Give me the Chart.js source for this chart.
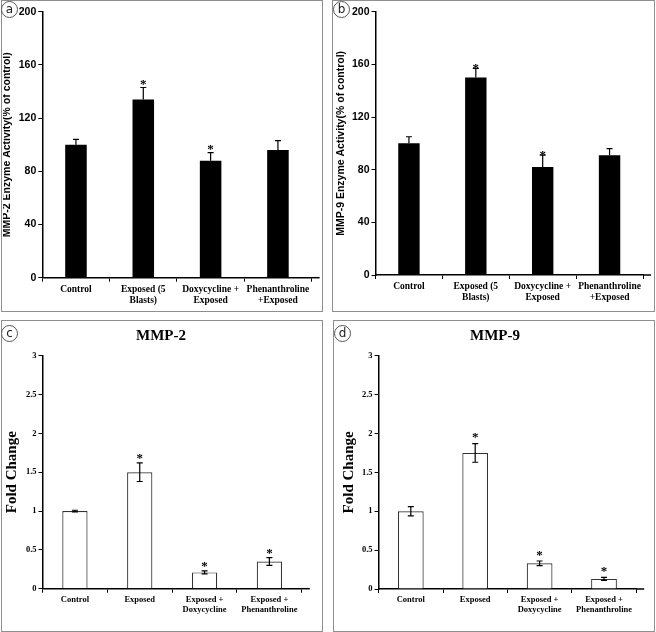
<!DOCTYPE html>
<html>
<head>
<meta charset="utf-8">
<script src="https://cdn.jsdelivr.net/npm/chart.js@4.4.0/dist/chart.umd.min.js"></script>
<style>
  body { margin: 0; background: #fff; width: 656px; height: 632px; position: relative; overflow: hidden; }
  .panel { position: absolute; border: 1.5px solid #8f8f8f; box-sizing: border-box; }
  canvas { position: absolute; }
  .tag { position: absolute; width: 15px; height: 15px; border: 1px solid #555; border-radius: 50%;
         font: 12px "DejaVu Sans", sans-serif; line-height: 14px; text-align: center; color: #222; background: #fff; }
  .title { position: absolute; font: bold 15px "Liberation Serif", serif; color: #000; transform: translate(-50%, -50%); white-space: nowrap; }
</style>
</head>
<body>
<div class="panel" style="left:1px;top:0;width:322px;height:312px"></div>
<div class="panel" style="left:332px;top:0;width:323px;height:312px"></div>
<div class="panel" style="left:1px;top:320px;width:322px;height:312px"></div>
<div class="panel" style="left:333px;top:320px;width:322px;height:312px"></div>

<canvas id="chartA" style="left:3px;top:2px" width="317" height="307"></canvas>
<canvas id="chartB" style="left:334px;top:2px" width="318" height="307"></canvas>
<canvas id="chartC" style="left:3px;top:322px" width="317" height="307"></canvas>
<canvas id="chartD" style="left:335px;top:322px" width="317" height="307"></canvas>

<div class="tag" style="left:1px;top:1px">a</div>
<div class="tag" style="left:333px;top:1px">b</div>
<div class="tag" style="left:1px;top:325px">c</div>
<div class="tag" style="left:334px;top:325px">d</div>
<div class="title" style="left:161px;top:335px">MMP-2</div>
<div class="title" style="left:495px;top:335px">MMP-9</div>

<script>
// panels a/b: enzyme activity, % of control
const activityLabels = [['Control'], ['Exposed (5', 'Blasts)'], ['Doxycycline +', 'Exposed'], ['Phenanthroline', '+Exposed']];
const mmp2Activity = [100, 134, 88, 96];
const mmp2ActivityErr = [4, 9, 6, 7];
const mmp2ActivityStar = [false, true, true, false];
const mmp9Activity = [100, 150, 82, 91];
const mmp9ActivityErr = [5, 7, 9, 5];
const mmp9ActivityStar = [false, true, true, false];
const activityTicks = [0, 40, 80, 120, 160, 200];

// panels c/d: fold change
const foldLabels = [['Control'], ['Exposed'], ['Exposed +', 'Doxycycline'], ['Exposed +', 'Phenanthroline']];
const mmp2Fold = [1.0, 1.5, 0.21, 0.35];
const mmp2FoldErr = [0.01, 0.12, 0.02, 0.05];
const mmp2FoldStar = [false, true, true, true];
const mmp9Fold = [1.0, 1.75, 0.33, 0.13];
const mmp9FoldErr = [0.06, 0.12, 0.03, 0.02];
const mmp9FoldStar = [false, true, true, true];
const foldTicks = [0, 0.5, 1, 1.5, 2, 2.5, 3];

const serif = '"Liberation Serif", "Times New Roman", serif';
const sans = '"Liberation Sans", Arial, sans-serif';

const errorBars = {
    id: 'errorBars',
    afterDatasetsDraw(chart, args, opts) {
        const ctx = chart.ctx;
        const y = chart.scales.y;
        const meta = chart.getDatasetMeta(0);
        const area = chart.chartArea;
        ctx.save();
        // axis line runs a little past the last category, as in the original
        ctx.strokeStyle = '#000';
        ctx.lineWidth = 1.5;
        ctx.beginPath();
        ctx.moveTo(area.right, area.bottom);
        ctx.lineTo(area.right + 8, area.bottom);
        ctx.stroke();

        ctx.lineWidth = 1.2;
        ctx.fillStyle = '#000';
        ctx.font = 'bold 13px ' + serif;
        ctx.textAlign = 'center';
        ctx.textBaseline = 'alphabetic';
        meta.data.forEach((bar, i) => {
            const v = opts.values[i], e = opts.errors[i];
            const top = y.getPixelForValue(v + e);
            const bot = y.getPixelForValue(opts.twoSided ? v - e : v);
            ctx.beginPath();
            ctx.moveTo(bar.x, top);
            ctx.lineTo(bar.x, bot);
            ctx.moveTo(bar.x - 3, top);
            ctx.lineTo(bar.x + 3, top);
            if (opts.twoSided) {
                ctx.moveTo(bar.x - 3, bot);
                ctx.lineTo(bar.x + 3, bot);
            }
            ctx.stroke();
            if (opts.stars[i]) {
                ctx.fillText('*', bar.x, top - opts.starGap + 6.5);
            }
        });
        ctx.restore();
    }
};

const makeChart = (id, p) => {
    const top = p.kind === 'activity';
    new Chart(document.getElementById(id), {
        type: 'bar',
        data: {
            labels: p.labels,
            datasets: [{
                data: p.values,
                backgroundColor: top ? '#000' : '#fff',
                borderColor: top ? '#000' : '#333',
                borderWidth: top ? 0 : 1.2,
                categoryPercentage: 1,
                barPercentage: p.barPct
            }]
        },
        options: {
            responsive: false,
            animation: false,
            events: [],
            layout: { padding: { left: 0, top: p.area.top, right: p.area.right, bottom: 0 } },
            plugins: {
                legend: { display: false },
                tooltip: { enabled: false },
                errorBars: { values: p.values, errors: p.errors, stars: p.stars, twoSided: !top, starGap: p.starGap }
            },
            scales: {
                x: {
                    afterFit: (s) => { s.height = p.area.xh; },
                    grid: { display: true, offset: true, drawOnChartArea: false, drawTicks: true, tickLength: 4, color: '#000', lineWidth: 1 },
                    border: { display: true, color: '#000', width: 1.5 },
                    ticks: {
                        color: '#000', padding: 2, maxRotation: 0, autoSkip: false,
                        font: { family: serif, weight: 'bold', size: top ? 9.5 : 8.5, lineHeight: 1.15 }
                    }
                },
                y: {
                    min: 0,
                    max: p.ticks[p.ticks.length - 1],
                    afterFit: (s) => { s.width = p.area.left; },
                    afterBuildTicks: (s) => { s.ticks = p.ticks.map(v => ({ value: v })); },
                    grid: { display: true, drawOnChartArea: false, drawTicks: true, tickLength: 4, color: '#000', lineWidth: 1 },
                    border: { display: true, color: '#000', width: 1.5 },
                    ticks: {
                        color: '#000', padding: 2,
                        callback: (v) => String(v),
                        font: top ? { family: sans, weight: 'bold', size: 10.5 } : { family: serif, weight: 'bold', size: 8.5 }
                    },
                    title: {
                        display: true,
                        text: p.yTitle,
                        color: '#000',
                        padding: { top: p.titlePad, bottom: 0 },
                        font: top ? { family: sans, weight: 'bold', size: 10.5, lineHeight: 1 } : { family: serif, weight: 'bold', size: 15, lineHeight: 1.2 }
                    }
                }
            }
        },
        plugins: [errorBars]
    });
};

makeChart('chartA', {
    kind: 'activity', labels: activityLabels, values: mmp2Activity, errors: mmp2ActivityErr, stars: mmp2ActivityStar,
    ticks: activityTicks, yTitle: 'MMP-2 Enzyme Activity(% of control)', barPct: 0.32, starGap: 6, titlePad: -1,
    area: { left: 39.3, top: 9.7, right: 8.4, xh: 31.3 }
});
makeChart('chartB', {
    kind: 'activity', labels: activityLabels, values: mmp9Activity, errors: mmp9ActivityErr, stars: mmp9ActivityStar,
    ticks: activityTicks, yTitle: 'MMP-9 Enzyme Activity(% of control)', barPct: 0.32, starGap: 3, titlePad: 1.8,
    area: { left: 41.5, top: 9.7, right: 9, xh: 34 }
});
makeChart('chartC', {
    kind: 'fold', labels: foldLabels, values: mmp2Fold, errors: mmp2FoldErr, stars: mmp2FoldStar,
    ticks: foldTicks, yTitle: 'Fold Change', barPct: 0.39, starGap: 7, titlePad: 0.3,
    area: { left: 39.5, top: 33.7, right: 18.2, xh: 40.3 }
});
makeChart('chartD', {
    kind: 'fold', labels: foldLabels, values: mmp9Fold, errors: mmp9FoldErr, stars: mmp9FoldStar,
    ticks: foldTicks, yTitle: 'Fold Change', barPct: 0.4, starGap: 9, titlePad: 5.3,
    area: { left: 43.6, top: 33.7, right: 15.8, xh: 40 }
});
</script>
</body>
</html>
